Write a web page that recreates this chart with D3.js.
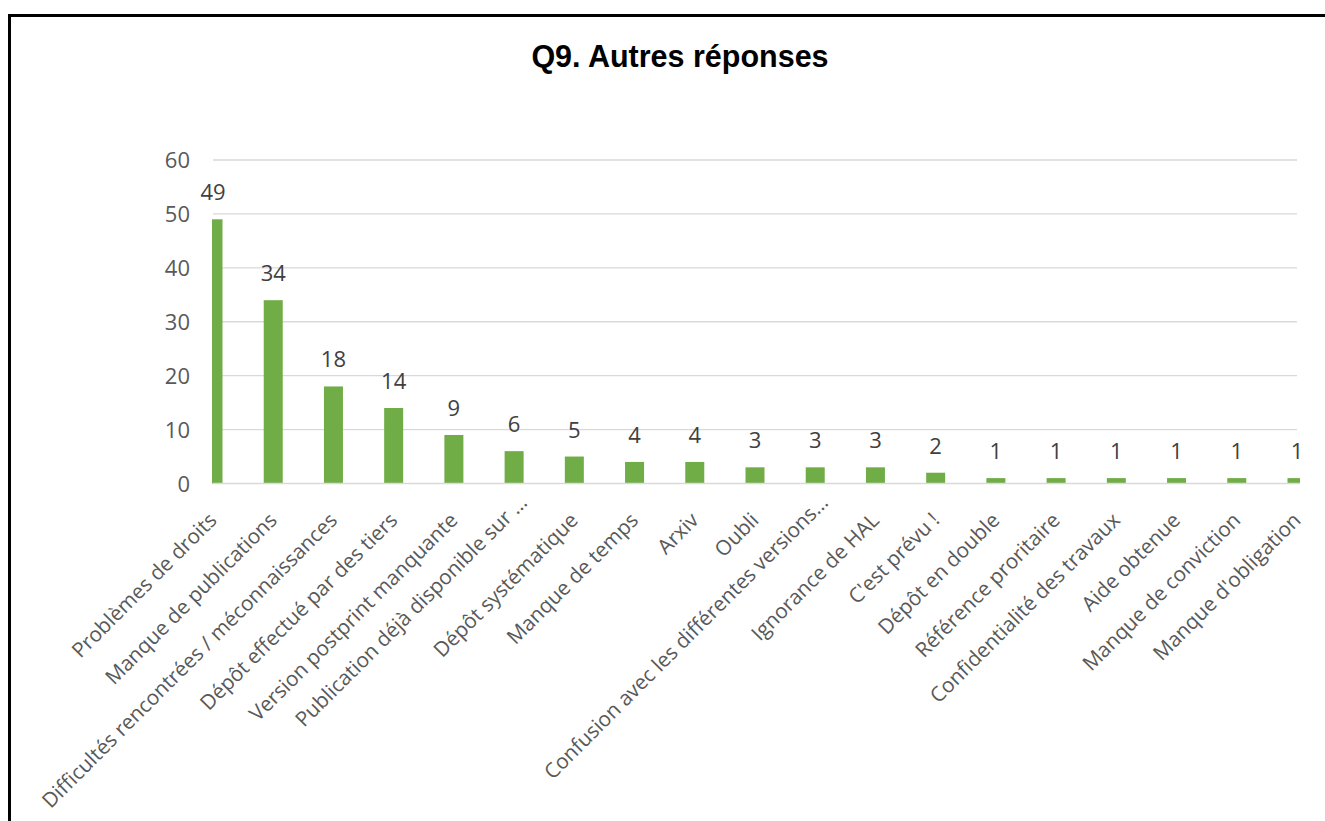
<!DOCTYPE html>
<html>
<head>
<meta charset="utf-8">
<script src="https://cdn.jsdelivr.net/npm/d3@7"></script>
<style>
  html, body { margin: 0; padding: 0; background: #fff; overflow: hidden; }
  svg { display: block; }
</style>
</head>
<body>
<svg id="chart" width="1325" height="821"></svg>
<script>
const title = "Q9. Autres réponses";
const categories = [
  "Problèmes de droits",
  "Manque de publications",
  "Difficultés rencontrées / méconnaissances",
  "Dépôt effectué par des tiers",
  "Version postprint manquante",
  "Publication déjà disponible sur …",
  "Dépôt systématique",
  "Manque de temps",
  "Arxiv",
  "Oubli",
  "Confusion avec les différentes versions…",
  "Ignorance de HAL",
  "C'est prévu !",
  "Dépôt en double",
  "Référence proritaire",
  "Confidentialité des travaux",
  "Aide obtenue",
  "Manque de conviction",
  "Manque d'obligation"
];
const values = [49, 34, 18, 14, 9, 6, 5, 4, 4, 3, 3, 3, 2, 1, 1, 1, 1, 1, 1];
const yTicks = [0, 10, 20, 30, 40, 50, 60];

const svg = d3.select("#chart");

// outer chart border (extends past the viewport, as in the cropped reference)
svg.append("rect")
  .attr("x", 9.5).attr("y", 15.5)
  .attr("width", 1400).attr("height", 900)
  .attr("fill", "none").attr("stroke", "#000").attr("stroke-width", 3);

const plotLeft = 213, plotRight = 1297, plotTop = 160, plotBottom = 483.5;

const x = d3.scalePoint().domain(categories).range([plotLeft, plotRight]).padding(0);
const y = d3.scaleLinear().domain([0, 60]).range([plotBottom, plotTop]);
const barW = 19;

// title
svg.append("text")
  .attr("x", 680).attr("y", 67)
  .attr("text-anchor", "middle")
  .attr("font-family", "Liberation Sans, Arial, sans-serif")
  .attr("font-weight", "bold")
  .attr("font-size", 30.5)
  .attr("fill", "#000")
  .text(title);

// gridlines
svg.append("g")
  .selectAll("line")
  .data(yTicks.filter(d => d > 0))
  .join("line")
  .attr("x1", plotLeft).attr("x2", plotRight)
  .attr("y1", d => y(d)).attr("y2", d => y(d))
  .attr("stroke", "#d9d9d9").attr("stroke-width", 1.3);

// y axis labels
const yAxis = d3.axisLeft(y).tickValues(yTicks).tickSize(0).tickPadding(0);
const gy = svg.append("g").attr("transform", `translate(190,0)`).call(yAxis);
gy.select(".domain").remove();
gy.selectAll("text")
  .attr("font-family", "Open Sans, sans-serif")
  .attr("font-size", 22)
  .attr("fill", "#595959")
  .attr("dy", "0.35em");

// clip for bars
svg.append("clipPath").attr("id", "plotclip")
  .append("rect").attr("x", plotLeft - 1).attr("y", 0)
  .attr("width", plotRight - plotLeft + 4).attr("height", plotBottom + 1);

// bars
svg.append("g").attr("clip-path", "url(#plotclip)")
  .selectAll("rect")
  .data(values)
  .join("rect")
  .attr("x", (d, i) => x(categories[i]) - barW / 2)
  .attr("y", d => y(d))
  .attr("width", barW)
  .attr("height", d => y(0) - y(d))
  .attr("fill", "#70ad47");

// x axis line
svg.append("line")
  .attr("x1", plotLeft).attr("x2", plotRight + 3)
  .attr("y1", y(0)).attr("y2", y(0))
  .attr("stroke", "#d9d9d9").attr("stroke-width", 1.3);

// data labels
svg.append("g")
  .selectAll("text")
  .data(values)
  .join("text")
  .attr("x", (d, i) => x(categories[i]))
  .attr("y", d => y(d) - 19)
  .attr("text-anchor", "middle")
  .attr("font-family", "Open Sans, sans-serif")
  .attr("font-size", 22)
  .attr("fill", "#404040")
  .text(d => d);

// x category labels (truncated labels fill the full label box, so they end further out)
const truncated = d => d.endsWith("…");
svg.append("g")
  .selectAll("text")
  .data(categories)
  .join("text")
  .attr("transform", d => `translate(${x(d) + 5},${plotBottom + 38}) rotate(-45)`)
  .attr("dx", d => truncated(d) ? 19 : 0)
  .attr("dy", d => truncated(d) ? -6 : 0)
  .attr("text-anchor", "end")
  .attr("font-family", "Open Sans, sans-serif")
  .attr("font-size", 20.7)
  .attr("fill", "#595959")
  .text(d => d);
</script>
</body>
</html>
